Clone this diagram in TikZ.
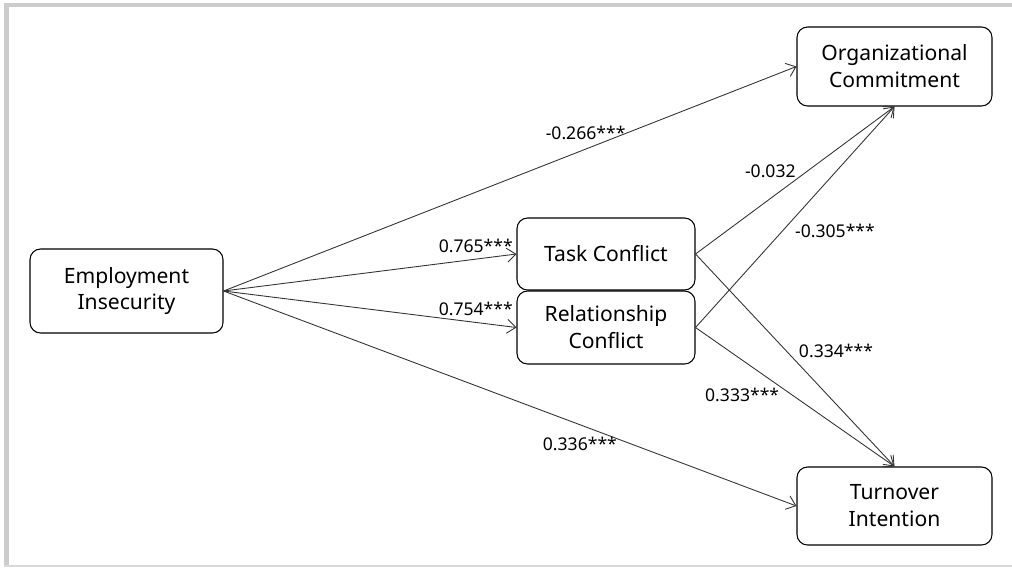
\documentclass[tikz,border=0pt]{standalone}
\usepackage{fontspec}
\setmainfont{Noto Sans}
\usetikzlibrary{arrows.meta}

\begin{document}
\begin{tikzpicture}[
    box/.style={draw, rectangle, rounded corners=6pt, line width=0.6pt, align=center, font=\fontsize{12}{15.3}\selectfont},
    link/.style={draw=black!80, line width=0.5pt, -{Straight Barb[length=5pt, width=8pt]}},
    lbl/.style={font=\fontsize{10}{12}\selectfont, inner sep=1pt}
]
    % Frame
    \useasboundingbox (0,0) rectangle (20.24,-11.34);
    \fill[black!20] (0.08,-0.06) rectangle (20.24,-0.14);
    \fill[black!20] (0.08,-0.06) rectangle (0.18,-11.34);
    \fill[black!15] (0.08,-11.29) rectangle (20.24,-11.33);

    % Nodes
    \node[box, minimum width=3.86cm, minimum height=1.68cm] (ei) at (2.53,-5.82) {Employment\\Insecurity};
    \node[box, minimum width=3.56cm, minimum height=1.44cm] (task) at (12.12,-5.08) {Task Conflict};
    \node[box, minimum width=3.56cm, minimum height=1.46cm] (rel) at (12.12,-6.55) {Relationship\\Conflict};
    \node[box, minimum width=3.9cm, minimum height=1.58cm] (oc) at (17.89,-1.33) {Organizational\\Commitment};
    \node[box, minimum width=3.9cm, minimum height=1.56cm] (ti) at (17.89,-10.12) {Turnover\\Intention};

    % Paths
    \draw[link] (ei.east) -- node[lbl, pos=0.632, yshift=9pt] (b1) {-0.266***} (oc.west);
    \draw[link] (ei.east) -- node[lbl, pos=0.861, yshift=7.4pt] (b2) {0.765***} (task.west);
    \draw[link] (ei.east) -- node[lbl, pos=0.861, yshift=7.6pt] (b3) {0.754***} (rel.west);
    \draw[link] (ei.east) -- node[lbl, pos=0.622, yshift=-10.8pt] (b4) {0.336***} (ti.west);
    \draw[link] (task.east) -- node[lbl, pos=0.376, yshift=15.5pt] (b5) {-0.032} (oc.south);
    \draw[link] (rel.east) -- node[lbl, pos=0.436, xshift=30pt] (b6) {-0.305***} (oc.south);
    \draw[link] (task.east) -- node[lbl, pos=0.455, xshift=28.4pt] (b7) {0.334***} (ti.north);
    \draw[link] (rel.east) -- node[lbl, pos=0.487, xshift=-28.6pt] (b8) {0.333***} (ti.north);
\end{tikzpicture}
\end{document}
